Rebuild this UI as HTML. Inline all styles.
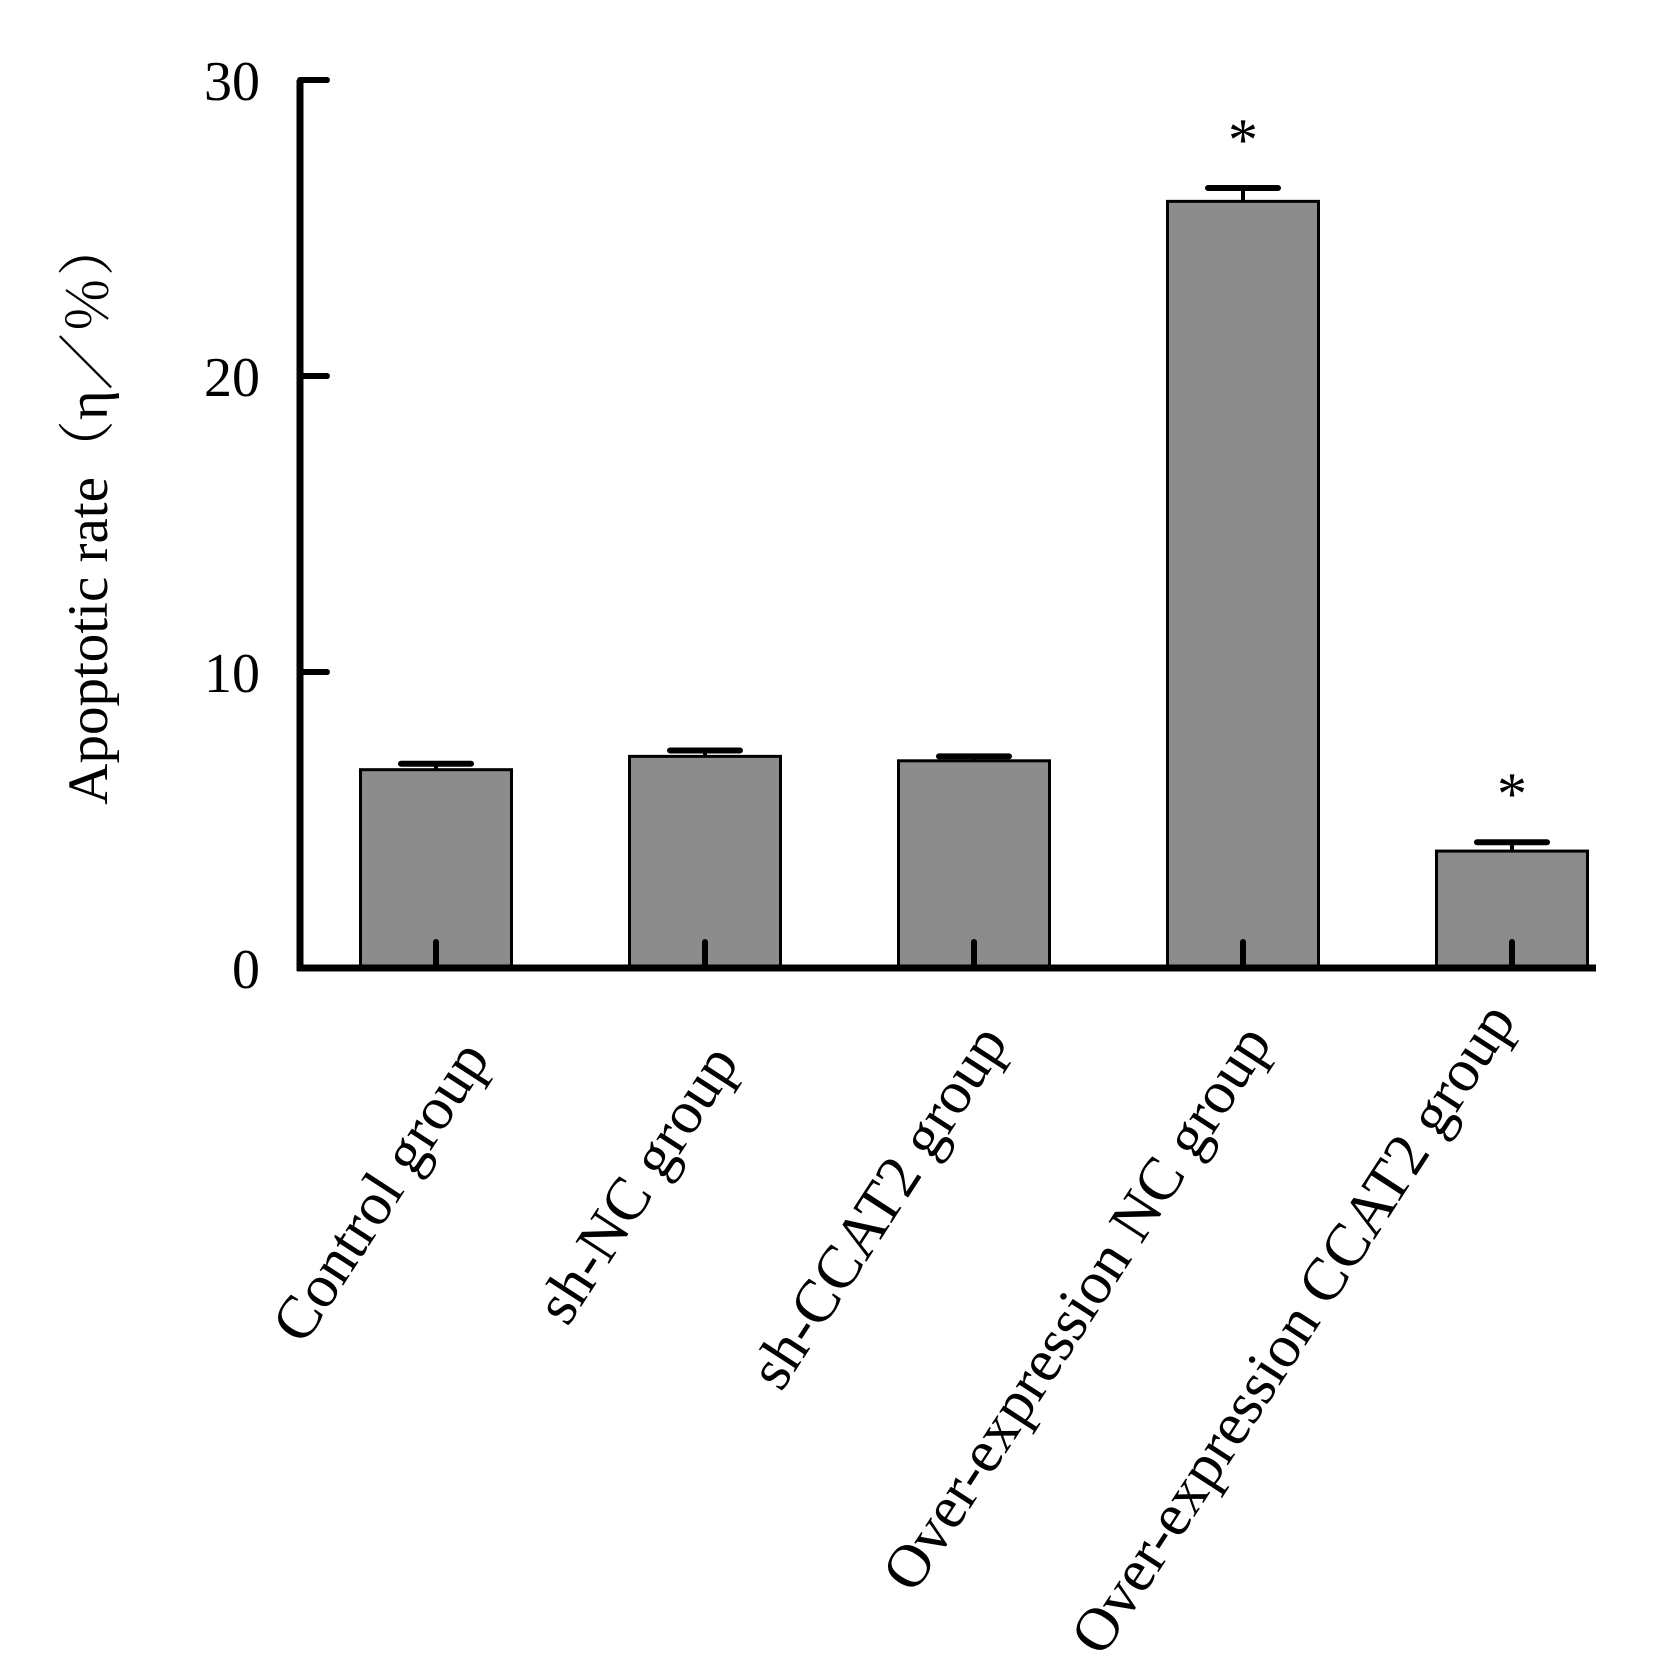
<!DOCTYPE html>
<html><head><meta charset="utf-8"><style>
html,body{margin:0;padding:0;background:#fff;}
svg{display:block;}
text{font-family:"Liberation Serif","Noto Serif CJK SC",serif;fill:#000;}
</style></head><body>
<svg id="chart" width="1654" height="1664" viewBox="0 0 1654 1664" xmlns="http://www.w3.org/2000/svg">
<g id="plot"></g>
</svg>
<script>
const categories = ["Control group","sh-NC group","sh-CCAT2  group","Over-expression NC group","Over-expression CCAT2 group"];
const values = [6.7, 7.15, 7.0, 25.9, 3.95];
const errors = [0.2, 0.2, 0.15, 0.45, 0.3];
const significant = [false, false, false, true, true];
const yTicks = [0, 10, 20, 30];

const NS = "http://www.w3.org/2000/svg";
const g = document.getElementById('plot');
const x0 = 300, xEnd = 1596, yBase = 968, yTop = 80, yMax = 30;
const firstCenter = 436, step = 269, barW = 151;
function yScale(v){ return yBase - (v / yMax) * (yBase - yTop); }
function xScale(i){ return firstCenter + i * step; }
function mk(tag, attrs){ const e = document.createElementNS(NS, tag); for (const k in attrs) e.setAttribute(k, attrs[k]); g.appendChild(e); return e; }

categories.forEach((c, i) => {
  const cx = xScale(i), top = yScale(values[i]);
  const bar = mk('rect', {x: cx - barW/2, y: top, width: barW, height: yBase - top, fill: '#8c8c8c', stroke: '#000', 'stroke-width': 3});
  
  
  const capY = yScale(values[i] + errors[i]);
  const eb = mk('line', {x1: cx, x2: cx, y1: top, y2: capY, stroke: '#000', 'stroke-width': 4});
  
  
  const cap = mk('line', {x1: cx - 35, x2: cx + 35, y1: capY, y2: capY, stroke: '#000', 'stroke-width': 6, 'stroke-linecap': 'round'});
  
  
  const tk = mk('line', {x1: cx, x2: cx, y1: yBase, y2: yBase - 26, stroke: '#000', 'stroke-width': 6, 'stroke-linecap': 'round'});
  
  
  if (significant[i]) {
    const s = mk('text', {x: cx, y: capY - 28, 'font-size': 60, 'text-anchor': 'middle'});
    s.textContent = '*';
    
    
  }
});

const labelDx = [55, 35, 35, 30, 5];
const labelDy = [1058, 1062, 1042, 1042, 1020];
categories.forEach((c, i) => {
  const lx = xScale(i) + labelDx[i], ly = labelDy[i];
  const t = mk('text', {x: lx, y: ly, 'font-size': 61, 'text-anchor': 'end', transform: `rotate(-57 ${lx} ${ly})`});
  t.textContent = c;
  
  
});

const ya = mk('line', {x1: x0, x2: x0, y1: yTop, y2: yBase + 3, stroke: '#000', 'stroke-width': 7});


const xa = mk('line', {x1: x0 - 3, x2: xEnd, y1: yBase, y2: yBase, stroke: '#000', 'stroke-width': 7});



yTicks.forEach(v => {
  const y = yScale(v);
  const l = mk('line', {x1: x0, x2: x0 + 27, y1: y, y2: y, stroke: '#000', 'stroke-width': 6, 'stroke-linecap': 'round'});
  
  
  const t = mk('text', {x: 260, y: y + 20, 'font-size': 56, 'text-anchor': 'end'});
  t.textContent = v;
  
  
});

const yt = mk('text', {x: 107, y: 512, 'font-size': 57, 'text-anchor': 'middle', transform: 'rotate(-90 107 512)'});
yt.textContent = 'Apoptotic rate（η／％）';


</script>
</body></html>
